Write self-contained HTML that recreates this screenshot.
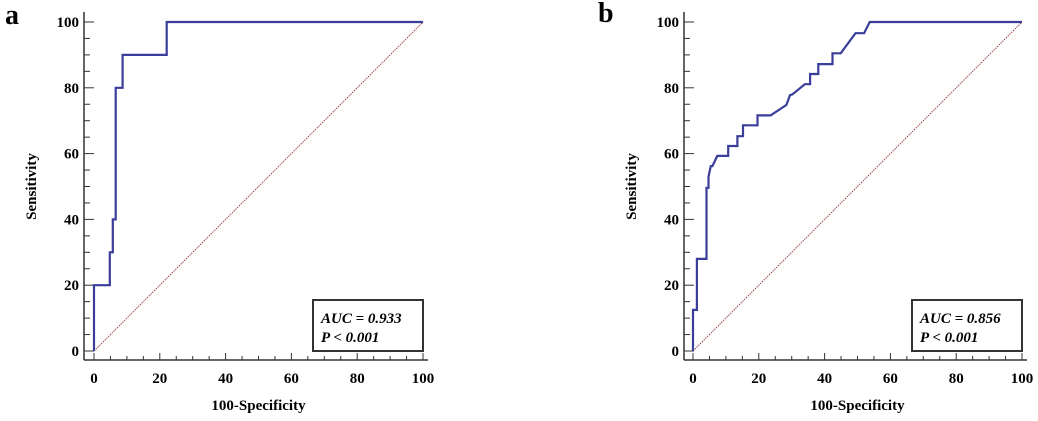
<!DOCTYPE html>
<html><head><meta charset="utf-8"><style>
body{margin:0;background:#fff;}
svg text{font-family:"Liberation Serif",serif;font-weight:bold;}
</style></head><body>
<svg id="s" width="1038" height="416" xmlns="http://www.w3.org/2000/svg"></svg>
<script>
const ticks=[0,20,40,60,80,100];
const aX=[0,0,4.8,4.8,5.7,5.7,6.6,6.6,8.7,8.7,22.1,22.1,100];
const aY=[0,20,20,30,30,40,40,80,80,90,90,100,100];
const bX=[0,0,1.2,1.2,4.1,4.1,4.7,4.7,5.4,5.9,7.4,10.7,10.7,13.5,13.5,15.2,15.2,19.6,19.6,23.6,28.4,29.5,30.2,34,35.6,35.6,38.1,38.1,42.4,42.4,44.9,49.4,52,53.7,100];
const bY=[0,12.5,12.5,28,28,49.6,49.6,53,56.2,56.2,59.3,59.3,62.3,62.3,65.3,65.3,68.6,68.6,71.6,71.6,74.8,77.8,78,81.1,81.1,84.2,84.2,87.2,87.2,90.5,90.5,96.6,96.6,100,100];
const panels=[{id:'a',ox:94,ax:84,xs:aX,ys:aY,auc:'AUC = 0.933',p:'P < 0.001',lx:5,ly:24},
              {id:'b',ox:693,ax:684,xs:bX,ys:bY,auc:'AUC = 0.856',p:'P < 0.001',lx:598,ly:22}];
const s=document.getElementById('s');const NS='http://www.w3.org/2000/svg';
function mk(t,a,txt){const e=document.createElementNS(NS,t);for(const k in a)e.setAttribute(k,a[k]);if(txt!=null)e.textContent=txt;s.appendChild(e);return e;}
const k=3.29, y0=351;
panels.forEach(P=>{
 const X=v=>P.ox+v*k, Y=v=>y0-v*k;
 let e;
 e=mk('text',{x:P.lx,y:P.ly,'font-size':28},P.id);
 
 
 e=mk('line',{x1:P.ax,y1:12,x2:P.ax,y2:360,stroke:'#333','stroke-width':1.5});
 
 
 e=mk('line',{x1:P.ax,y1:360,x2:X(100)+5,y2:360,stroke:'#333','stroke-width':1.5});
 
 
 for(let v=0;v<=100;v+=5){
  const maj=v%20==0;
  e=mk('line',{x1:P.ax,y1:Y(v),x2:P.ax+(maj?10:6),y2:Y(v),stroke:'#333','stroke-width':1});
  
  
  e=mk('line',{x1:X(v),y1:360,x2:X(v),y2:360-(maj?7:4),stroke:'#333','stroke-width':1});
  
  
 }
 ticks.forEach(v=>{
  e=mk('text',{x:P.ax-5,y:Y(v)+5,'font-size':15,'text-anchor':'end'},String(v));
  
  
  e=mk('text',{x:X(v),y:383,'font-size':15,'text-anchor':'middle'},String(v));
  
  
 });
 e=mk('text',{x:X(50),y:410,'font-size':15,'text-anchor':'middle'},'100-Specificity');
 
 
 e=mk('text',{x:0,y:0,'font-size':15,'text-anchor':'middle',transform:`translate(${P.ax-48},${Y(50)}) rotate(-90)`},'Sensitivity');
 
 
 e=mk('line',{x1:X(0),y1:Y(0),x2:X(100),y2:Y(100),stroke:'#a04040','stroke-width':1,'stroke-dasharray':'1.5,1'});
 
 
 const pts=P.xs.map((x,i)=>X(x).toFixed(1)+','+Y(P.ys[i]).toFixed(1)).join(' ');
 e=mk('polyline',{points:pts,fill:'none',stroke:'#3a3d9a','stroke-width':2.2});
 
 
 const bx=P.ox+219;
 e=mk('rect',{x:bx,y:300,width:110,height:51,fill:'#fff',stroke:'#333','stroke-width':2});
 
 
 e=mk('text',{x:bx+8,y:323,'font-size':15,'font-style':'italic'},P.auc);
 
 
 e=mk('text',{x:bx+8,y:342,'font-size':15,'font-style':'italic'},P.p);
 
 
});
</script>
</body></html>
